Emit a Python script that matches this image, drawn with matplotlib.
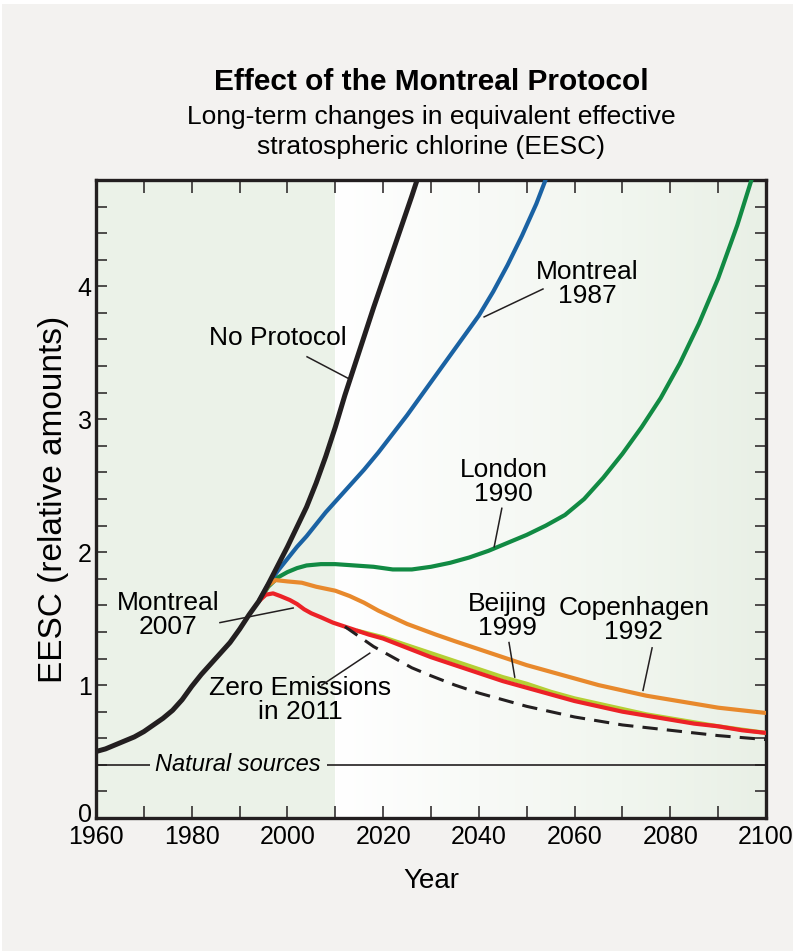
import numpy as np
import matplotlib
matplotlib.use("Agg")
import matplotlib.pyplot as plt
import matplotlib.transforms as mtransforms
from matplotlib.colors import LinearSegmentedColormap
from matplotlib.patches import Rectangle

plt.rcParams['font.family'] = ['Liberation Sans', 'DejaVu Sans']

# shared history up to the branch point
hist_years = [1960, 1962, 1964, 1966, 1968, 1970, 1972, 1974, 1976, 1978, 1980, 1982, 1984,
              1986, 1988, 1990, 1992, 1994]
hist_eesc = [0.50, 0.52, 0.55, 0.58, 0.61, 0.65, 0.70, 0.75, 0.81, 0.89, 0.99, 1.08, 1.16,
             1.24, 1.32, 1.42, 1.53, 1.63]

no_prot_years = [1994, 1996, 1998, 2000, 2002, 2004, 2006, 2008, 2010, 2012, 2014, 2016, 2018,
                 2020, 2022, 2024, 2026, 2028]
no_prot_eesc = [1.63, 1.76, 1.90, 2.04, 2.19, 2.34, 2.52, 2.72, 2.94, 3.18, 3.40, 3.62, 3.84,
                4.05, 4.26, 4.47, 4.68, 4.90]

mont87_years = [1994, 1996, 1998, 2000, 2002, 2004, 2006, 2008, 2010, 2013, 2016, 2019, 2022,
                2025, 2028, 2031, 2034, 2037, 2040, 2043, 2046, 2049, 2052, 2055]
mont87_eesc = [1.63, 1.76, 1.86, 1.95, 2.04, 2.12, 2.21, 2.30, 2.38, 2.50, 2.62, 2.75, 2.89,
               3.03, 3.18, 3.33, 3.48, 3.63, 3.78, 3.96, 4.16, 4.38, 4.62, 4.90]

london_years = [1994, 1996, 1998, 2000, 2002, 2004, 2007, 2010, 2014, 2018, 2022, 2026, 2030,
                2034, 2038, 2042, 2046, 2050, 2054, 2058, 2062, 2066, 2070, 2074, 2078, 2082,
                2086, 2090, 2094, 2098]
london_eesc = [1.63, 1.74, 1.81, 1.85, 1.88, 1.90, 1.91, 1.91, 1.90, 1.89, 1.87, 1.87, 1.89,
               1.92, 1.96, 2.01, 2.07, 2.13, 2.20, 2.28, 2.40, 2.56, 2.74, 2.94, 3.16, 3.42,
               3.72, 4.06, 4.46, 4.92]

copen_years = [1994, 1996, 1997.5, 2000, 2003, 2006, 2010, 2013, 2016, 2019, 2022, 2025, 2028,
               2031, 2035, 2040, 2045, 2050, 2055, 2060, 2065, 2070, 2075, 2080, 2085, 2090,
               2095, 2100]
copen_eesc = [1.63, 1.75, 1.79, 1.78, 1.77, 1.74, 1.71, 1.67, 1.62, 1.56, 1.51, 1.46, 1.42,
              1.38, 1.33, 1.27, 1.21, 1.15, 1.10, 1.05, 1.00, 0.96, 0.92, 0.89, 0.86, 0.83,
              0.81, 0.79]

beijing_years = [2014.5, 2020, 2025, 2030, 2035, 2040, 2045, 2050, 2055, 2060, 2065, 2070,
                 2075, 2080, 2085, 2090, 2100]
beijing_eesc = [1.41, 1.36, 1.30, 1.24, 1.18, 1.12, 1.06, 1.01, 0.95, 0.90, 0.86, 0.82,
                0.78, 0.75, 0.72, 0.69, 0.64]

mont07_years = [1994, 1995.5, 1997, 1998.5, 2000.5, 2002, 2003.5, 2005, 2007, 2009.5, 2012,
                2014.5, 2017, 2020, 2025, 2030, 2035, 2040, 2045, 2050, 2055, 2060, 2065,
                2070, 2075, 2080, 2085, 2090, 2095, 2100]
mont07_eesc = [1.63, 1.68, 1.69, 1.67, 1.64, 1.61, 1.57, 1.54, 1.51, 1.47, 1.44,
               1.41, 1.38, 1.35, 1.28, 1.21, 1.15, 1.09, 1.03, 0.98, 0.93, 0.88, 0.84,
               0.80, 0.77, 0.74, 0.71, 0.69, 0.66, 0.64]

zero_years = [2012, 2014, 2016, 2018, 2020, 2023, 2026, 2030, 2035, 2040, 2045, 2050, 2055,
              2060, 2065, 2070, 2075, 2080, 2085, 2090, 2095, 2100]
zero_eesc = [1.44, 1.39, 1.34, 1.29, 1.25, 1.19, 1.13, 1.07, 1.00, 0.94, 0.89, 0.84, 0.80,
             0.76, 0.73, 0.70, 0.68, 0.66, 0.64, 0.62, 0.605, 0.59]

natural_level = 0.40

C_BLACK = '#231f20'
C_BLUE = '#1a62a3'
C_GREEN = '#118a43'
C_ORANGE = '#e8892c'
C_RED = '#ec2227'
C_YG = '#b5cf34'
BG_GREEN = '#ebf2e8'

fig = plt.figure(figsize=(7.93, 9.51), dpi=100)
fig.patch.set_facecolor('white')
fig.patches.append(Rectangle((0.003, 0), 0.997, 0.996, transform=fig.transFigure,
                             facecolor='#f3f2f0', edgecolor='none', zorder=-10))

ax = fig.add_axes([96 / 793, 1 - 818 / 951, 670 / 793, 638 / 951])
ax.set_xlim(1960, 2100)
ax.set_ylim(0, 4.8)

# background: green before 2010, gradient white -> green afterwards
ax.axvspan(1960, 2010, color=BG_GREEN, zorder=0, lw=0)
cmap = LinearSegmentedColormap.from_list('bg', ['#ffffff', '#f8faf7', '#f1f6ef', '#e9f0e6'])
ax.imshow(np.linspace(0, 1, 256)[None, :], extent=[2010, 2100, 0, 4.8], aspect='auto',
          cmap=cmap, zorder=0, interpolation='bilinear')

lw = 3.0
kw = dict(lw=lw, solid_joinstyle='round', solid_capstyle='butt')
ax.plot(london_years, london_eesc, color=C_GREEN, zorder=3, **kw)
ax.plot(mont87_years, mont87_eesc, color=C_BLUE, zorder=3, **kw)
ax.plot(copen_years, copen_eesc, color=C_ORANGE, zorder=3, **kw)
ax.plot(beijing_years, beijing_eesc, color=C_YG, zorder=3, **kw)
ax.plot(mont07_years, mont07_eesc, color=C_RED, zorder=4, **kw)
ax.plot(zero_years, zero_eesc, color=C_BLACK, lw=2.2, ls=(0, (5, 3)), zorder=4)
ax.plot(hist_years + no_prot_years[1:], hist_eesc + no_prot_eesc[1:], color=C_BLACK, lw=3.6,
        solid_joinstyle='round', zorder=5)

ax.axhline(natural_level, color=C_BLACK, lw=1.2, zorder=2)
ax.text(1989.7, natural_level, 'Natural sources', style='italic', fontsize=17, ha='center',
        va='center', zorder=2.5,
        bbox=dict(facecolor=BG_GREEN, edgecolor='none', pad=4))

fs = 19
labels = [
    ('No Protocol', (1998.0, 3.61), (2004.1, 3.47), (2013.1, 3.30)),
    ('Montreal\n1987', (2062.6, 4.02), (2053.4, 3.98), (2041.1, 3.77)),
    ('London\n1990', (2045.2, 2.53), (2044.8, 2.33), (2043.2, 2.04)),
    ('Montreal\n2007', (1975.0, 1.53), (1985.9, 1.47), (2001.2, 1.58)),
    ('Zero Emissions\nin 2011', (2002.6, 0.89), (2007.2, 1.00), (2017.2, 1.24)),
    ('Beijing\n1999', (2045.9, 1.52), (2046.3, 1.32), (2047.5, 1.06)),
    ('Copenhagen\n1992', (2072.4, 1.49), (2076.2, 1.28), (2074.3, 0.96)),
]
for txt, pos, p0, p1 in labels:
    ax.text(pos[0], pos[1], txt, fontsize=fs, ha='center', va='center', linespacing=1.0,
            zorder=6)
    ax.plot([p0[0], p1[0]], [p0[1], p1[1]], color=C_BLACK, lw=1.1, zorder=6)

ax.set_xticks(range(1960, 2101, 20))
ax.set_xticks(range(1960, 2101, 10), minor=True)
ax.set_yticks(range(0, 5))
ax.set_yticks(np.arange(0, 4.81, 0.2), minor=True)
ax.tick_params(which='both', direction='in', top=True, right=True, width=1.1, color=C_BLACK,
               labelsize=18)
ax.tick_params(axis='x', which='both', length=9, pad=5)
ax.tick_params(axis='y', which='both', length=8, pad=3)
for s in ax.spines.values():
    s.set_linewidth(2.4)
    s.set_color(C_BLACK)

# lift the "0" label a little so it sits clear of "1960"
fig.canvas.draw()
zero_lbl = ax.get_yticklabels()[0]
zero_lbl.set_transform(zero_lbl.get_transform() +
                       mtransforms.ScaledTranslation(0, 4 / 72, fig.dpi_scale_trans))

ax.set_xlabel('Year', fontsize=20, labelpad=14)
ax.set_ylabel('EESC (relative amounts)', fontsize=24, labelpad=6)

cx = (96 + 766) / 2 / 793
fig.text(cx, 1 - 82 / 951, 'Effect of the Montreal Protocol', fontsize=21.5, fontweight='bold',
         ha='center', va='center')
fig.text(cx, 1 - 132 / 951, 'Long-term changes in equivalent effective\nstratospheric chlorine (EESC)',
         fontsize=19, ha='center', va='center', linespacing=1.3)

fig.savefig('out.png', dpi=100, facecolor=fig.get_facecolor())
